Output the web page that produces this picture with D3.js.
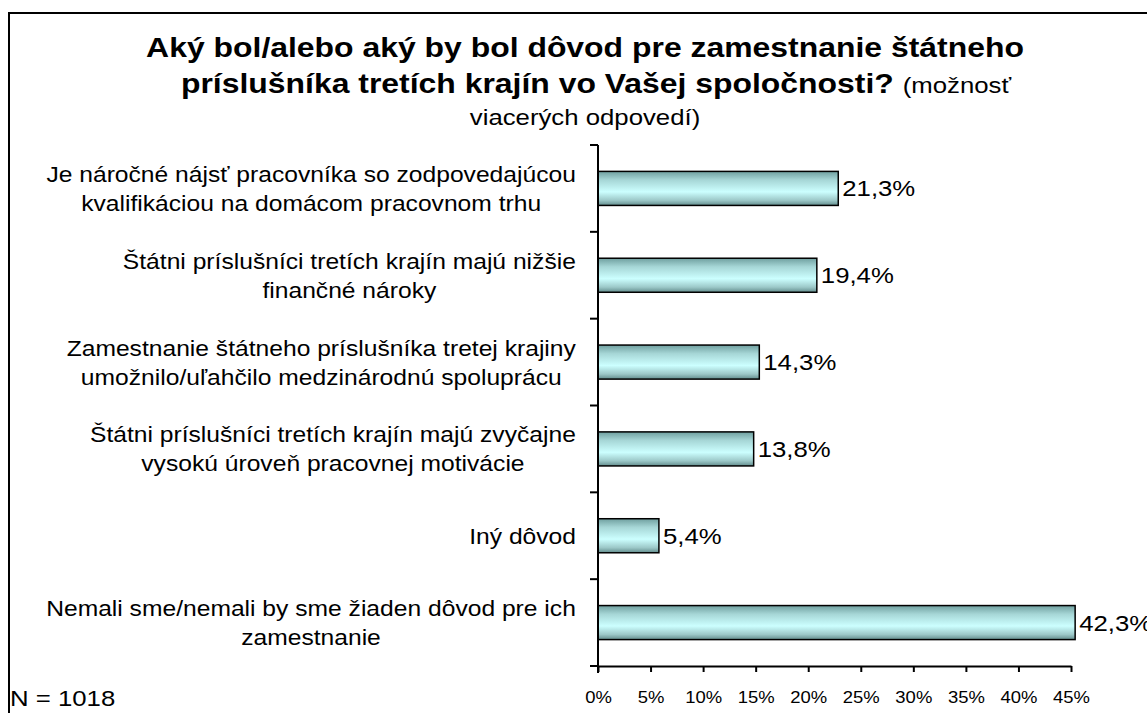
<!DOCTYPE html>
<html><head><meta charset="utf-8">
<script src="https://cdn.jsdelivr.net/npm/d3@7"></script>
<style>
html,body{margin:0;padding:0;background:#fff;}
svg{display:block;font-family:"Liberation Sans",Arial,sans-serif;}
</style></head>
<body>
<svg id="chart" width="1147" height="713"></svg>
<script>
const categories = [
  ["Je náročné nájsť pracovníka so zodpovedajúcou", "kvalifikáciou na domácom pracovnom trhu"],
  ["Štátni príslušníci tretích krajín majú nižšie", "finančné nároky"],
  ["Zamestnanie štátneho príslušníka tretej krajiny", "umožnilo/uľahčilo medzinárodnú spoluprácu"],
  ["Štátni príslušníci tretích krajín majú zvyčajne", "vysokú úroveň pracovnej motivácie"],
  ["Iný dôvod"],
  ["Nemali sme/nemali by sme žiaden dôvod pre ich", "zamestnanie"]
];
const values = [21.3, 19.4, 14.3, 13.8, 5.4, 42.3];
const valueLabels = ["21,3%", "19,4%", "14,3%", "13,8%", "5,4%", "42,3%"];
const tickValues = [0, 5, 10, 15, 20, 25, 30, 35, 40, 45];
const tickLabels = ["0%", "5%", "10%", "15%", "20%", "25%", "30%", "35%", "40%", "45%"];
const titleLines = [
  "Aký bol/alebo aký by bol dôvod pre zamestnanie štátneho",
  "príslušníka tretích krajín vo Vašej spoločnosti?"
];
const titleNote = ["(možnosť", "viacerých odpovedí)"];
const footnote = "N = 1018";

const SX = 1.12; // horizontal stretch of the original rendering
const svg = d3.select("#chart");

function placeText(parent, x, y, anchor, size, str, weight) {
  return parent.append("text")
    .attr("transform", `translate(${x},${y}) scale(${SX},1)`)
    .attr("text-anchor", anchor).attr("font-size", size)
    .attr("font-weight", weight || "normal").attr("fill", "#000").text(str);
}

// outer frame
svg.append("rect").attr("x", 9).attr("y", 13).attr("width", 1200).attr("height", 800)
  .attr("fill", "none").attr("stroke", "#000").attr("stroke-width", 2);

// gradient
const defs = svg.append("defs");
const g = defs.append("linearGradient").attr("id", "barGrad")
  .attr("x1", 0).attr("y1", 0).attr("x2", 0).attr("y2", 1);
g.append("stop").attr("offset", "0%").attr("stop-color", "#6f9f9f");
g.append("stop").attr("offset", "25%").attr("stop-color", "#a6d6d6");
g.append("stop").attr("offset", "60%").attr("stop-color", "#ccffff");
g.append("stop").attr("offset", "85%").attr("stop-color", "#9cc8c8");
g.append("stop").attr("offset", "100%").attr("stop-color", "#628c8c");

const x0 = 598, yTop = 145, yBot = 666;
const xBar = d3.scaleLinear().domain([0, 45]).range([x0, x0 + 45 * 11.28]);
const xAxisScale = d3.scaleLinear().domain([0, 45]).range([x0, 1071]);
const y = d3.scaleBand().domain(d3.range(categories.length)).range([yTop, yBot])
  .paddingInner(0.608).paddingOuter(0.304);

// bars
svg.append("g").selectAll("rect").data(values).join("rect")
  .attr("x", xBar(0)).attr("y", (d, i) => y(i))
  .attr("width", d => xBar(d) - xBar(0)).attr("height", y.bandwidth())
  .attr("fill", "url(#barGrad)").attr("stroke", "#000").attr("stroke-width", 1.5);

// value labels
const vg = svg.append("g");
values.forEach((d, i) => {
  placeText(vg, xBar(d) + 4, y(i) + y.bandwidth() / 2 + 8, "start", 23, valueLabels[i]);
});

// x axis
const xAxis = d3.axisBottom(xAxisScale).tickValues(tickValues)
  .tickFormat((d, i) => tickLabels[i]).tickSize(6).tickSizeOuter(0).tickPadding(19);
const gx = svg.append("g").attr("transform", `translate(0,${yBot})`).call(xAxis);
gx.select(".domain").attr("stroke", "#000").attr("stroke-width", 2);
gx.selectAll(".tick line").attr("stroke", "#000").attr("stroke-width", 2);
gx.selectAll(".tick text").attr("font-size", 16.5)
  .attr("font-family", "Liberation Sans, Arial, sans-serif").attr("fill", "#000")
  .attr("transform", `scale(${SX},1)`);

// y axis (category separators)
const yLine = svg.append("g");
yLine.append("line").attr("x1", x0).attr("x2", x0).attr("y1", yTop).attr("y2", yBot + 7)
  .attr("stroke", "#000").attr("stroke-width", 2);
const sep = d3.range(categories.length + 1).map(i => yTop + i * y.step());
yLine.selectAll("line.sep").data(sep).join("line").attr("class", "sep")
  .attr("x1", x0 - 8).attr("x2", x0).attr("y1", d => d).attr("y2", d => d)
  .attr("stroke", "#000").attr("stroke-width", 2);

// category labels: right-aligned block, lines centered within block
const labelRight = 576;
const lineH = 29;
categories.forEach((lines, i) => {
  const cy = y(i) + y.bandwidth() / 2;
  const cg = svg.append("g");
  const texts = lines.map((ln, k) => cg.append("text")
    .attr("font-size", 22).attr("fill", "#000").attr("text-anchor", "middle").text(ln));
  const maxW = d3.max(texts, t => t.node().getComputedTextLength()) * SX;
  texts.forEach((t, k) => t.attr("transform",
    `translate(${labelRight - maxW / 2},${cy + 8 + (k - (lines.length - 1) / 2) * lineH}) scale(${SX},1)`));
});

// title
const tg = svg.append("g");
placeText(tg, 585, 57, "middle", 28.5, titleLines[0], "bold");
const t2 = tg.append("text").attr("transform", `translate(596,93) scale(${SX},1)`)
  .attr("text-anchor", "middle");
t2.append("tspan").attr("font-size", 28.5).attr("font-weight", "bold").text(titleLines[1] + " ");
t2.append("tspan").attr("font-size", 23).text(titleNote[0]);
placeText(tg, 585, 125, "middle", 23, titleNote[1]);

// footnote
placeText(svg, 10, 706, "start", 23, footnote);
</script>
</body></html>
